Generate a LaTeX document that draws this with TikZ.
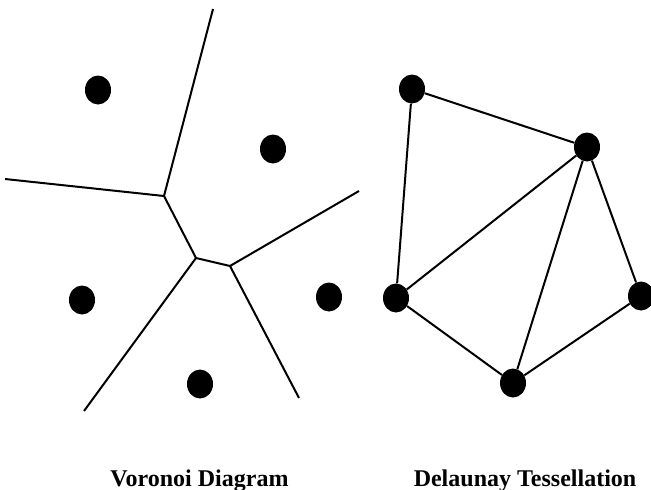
\documentclass[tikz,border=0pt]{standalone}
\usepackage{fontspec}
\setmainfont{Liberation Serif}
\usepackage{tikz}
\usetikzlibrary{shapes.geometric}
\tikzset{site/.style={ellipse, fill=black, draw=none, inner sep=0pt,
		minimum width=26pt, minimum height=29pt},
	cell/.style={line width=2pt},
	caption/.style={anchor=base, font=\fontsize{24}{28}\selectfont\bfseries}}

\begin{document}
\begin{tikzpicture}[x=1pt,y=-1pt]
		\useasboundingbox (0,0) rectangle (651,490);
		% Voronoi cells
		\node[site] (v1) at (98,90){};
		\node[site] (v2) at (273,149){};
		\node[site] (v3) at (82,300){};
		\node[site] (v4) at (329,297){};
		\node[site] (v5) at (200,384){};
		\coordinate (p) at (164,196);
		\coordinate (q) at (196,258);
		\coordinate (r) at (230,266);
		\coordinate (top) at (213,9);
		\coordinate (left) at (5,179);
		\coordinate (right) at (359,191);
		\coordinate (botl) at (84,411);
		\coordinate (botr) at (299,398);
		\draw[cell] (top) -- (p);
		\draw[cell] (left) -- (p);
		\draw[cell] (p) -- (q);
		\draw[cell] (q) -- (r);
		\draw[cell] (r) -- (right);
		\draw[cell] (q) -- (botl);
		\draw[cell] (r) -- (botr);
		% Delaunay triangles
		\node[site] (a) at (412,89){};
		\node[site] (b) at (587,147){};
		\node[site] (c) at (396,298){};
		\node[site] (d) at (641,296){};
		\node[site] (e) at (513,383){};
		\draw[cell] (a) -- (b);
		\draw[cell] (a) -- (c);
		\draw[cell] (b) -- (c);
		\draw[cell] (b) -- (e);
		\draw[cell] (b) -- (d);
		\draw[cell] (c) -- (e);
		\draw[cell] (d) -- (e);
		% captions
		\node[caption] (vt) at (199.5,486){Voronoi Diagram};
		\node[caption] (dt) at (525,486){Delaunay Tessellation};
\end{tikzpicture}
\end{document}
